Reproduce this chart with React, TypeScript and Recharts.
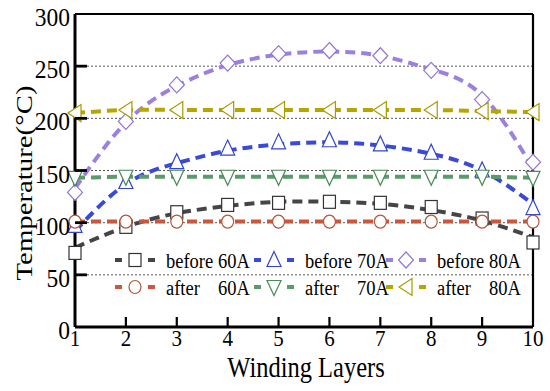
import React from 'react';
import { ComposedChart, Line, XAxis, YAxis, CartesianGrid, ReferenceLine, Customized } from 'recharts';

const layers = [1, 2, 3, 4, 5, 6, 7, 8, 9, 10];
const xTicks = [1, 2, 3, 4, 5, 6, 7, 8, 9, 10];
const yTicks = [0, 50, 100, 150, 200, 250, 300];

const before60 = [71, 96, 110, 117, 119, 120, 119, 115, 104, 81];
const before60Fit = [76, 96, 109, 116, 120, 120, 118, 112, 102, 86];
const after60 = [101, 101, 101, 101, 101, 101, 101, 101, 101, 101];
const before70 = [97, 139, 158, 171, 177, 179, 175, 167, 150, 114];
const before70Fit = [92, 137, 157, 169, 175, 177, 174, 166, 150, 118];
const after70 = [143, 144, 144, 144, 144, 144, 144, 144, 144, 143];
const before80 = [129, 197, 232, 253, 262, 265, 260, 246, 218, 158];
const before80Fit = [133, 196, 231, 251, 261, 264, 260, 247, 222, 152];
const after80 = [205, 208, 208, 208, 208, 208, 208, 208, 207, 206];

const legendWords = ['before', 'before', 'before', 'after', 'after', 'after'];
const legendAmps = ['60A', '70A', '80A', '60A', '70A', '80A'];

const FONT = "'Liberation Serif', 'Times New Roman', serif";

const data = layers.map((x, i) => ({
  x,
  before60: before60[i], before60Fit: before60Fit[i],
  after60: after60[i],
  before70: before70[i], before70Fit: before70Fit[i],
  after70: after70[i],
  before80: before80[i], before80Fit: before80Fit[i],
  after80: after80[i],
}));

type Shape = 'square' | 'circle' | 'up' | 'down' | 'diamond' | 'left';

const series: { key: string; lineKey: string; line: string; marker: string; shape: Shape }[] = [
  { key: 'before60', lineKey: 'before60Fit', line: '#454545', marker: '#333333', shape: 'square' },
  { key: 'before70', lineKey: 'before70Fit', line: '#3a4ad8', marker: '#3344d0', shape: 'up' },
  { key: 'before80', lineKey: 'before80Fit', line: '#9b80e0', marker: '#9373d8', shape: 'diamond' },
  { key: 'after60', lineKey: 'after60', line: '#c9573e', marker: '#b5573a', shape: 'circle' },
  { key: 'after70', lineKey: 'after70', line: '#5b9a6a', marker: '#4a8a58', shape: 'down' },
  { key: 'after80', lineKey: 'after80', line: '#b5a600', marker: '#a89a00', shape: 'left' },
];

function Marker({ shape, cx, cy, color }: { shape: Shape; cx: number; cy: number; color: string }) {
  const common = { fill: '#fff', stroke: color, strokeWidth: 1.2 };
  switch (shape) {
    case 'square':
      return <rect x={cx - 6} y={cy - 6.5} width={12} height={13} {...common} />;
    case 'circle':
      return <ellipse cx={cx} cy={cy} rx={6} ry={6.5} {...common} />;
    case 'up':
      return <polygon points={`${cx},${cy - 8.5} ${cx + 7},${cy + 6.5} ${cx - 7},${cy + 6.5}`} {...common} />;
    case 'down':
      return <polygon points={`${cx - 7},${cy - 6.5} ${cx + 7},${cy - 6.5} ${cx},${cy + 8.5}`} {...common} />;
    case 'diamond':
      return <polygon points={`${cx},${cy - 8} ${cx + 7.5},${cy} ${cx},${cy + 8} ${cx - 7.5},${cy}`} {...common} />;
    case 'left':
    default:
      return <polygon points={`${cx - 7},${cy} ${cx + 6},${cy - 8.5} ${cx + 6},${cy + 8.5}`} {...common} />;
  }
}

const YTick = (props: any) => {
  const { x, y, payload } = props;
  const v = payload.value;
  return (
    <g>
      {v > 0 && v < 300 && <line x1={x} x2={x + 12} y1={y} y2={y} stroke="#000" strokeWidth={2.8} />}
      <text transform={`translate(${x - 5},${y + 12}) scale(1,1.08)`} textAnchor="end" fontSize={23.5} fontFamily={FONT} fill="#000">
        {v}
      </text>
    </g>
  );
};

const XTick = (props: any) => {
  const { x, y, payload } = props;
  const v = payload.value;
  return (
    <g>
      {v > 1 && v < 10 && <line x1={x} x2={x} y1={y} y2={y - 10} stroke="#000" strokeWidth={2.2} />}
      <text transform={`translate(${x},${y + 19}) scale(1,1.1)`} textAnchor="middle" fontSize={21} fontFamily={FONT} fill="#000">
        {v}
      </text>
    </g>
  );
};

const legendCols = [115, 254, 386];
const legendRows = [260, 287];

const Overlay = () => (
  <g>
    <text transform="translate(306,377) scale(1,1.17)" textAnchor="middle" fontSize={24.5} fontFamily={FONT} fill="#000">
      Winding Layers
    </text>
    <text transform="translate(32,183) rotate(-90) scale(1.2,1)" textAnchor="middle" fontSize={24} fontFamily={FONT} fill="#000">
      Temperature(°C)
    </text>
    {series.map((s, i) => {
      const L = legendCols[i % 3];
      const cy = legendRows[Math.floor(i / 3)];
      return (
        <g key={s.key}>
          <line x1={L} x2={L + 7} y1={cy} y2={cy} stroke={s.line} strokeWidth={4} />
          <line x1={L + 33} x2={L + 40} y1={cy} y2={cy} stroke={s.line} strokeWidth={4} />
          <Marker shape={s.shape} cx={L + 20} cy={cy} color={s.marker} />
          <text transform={`translate(${L + 51},${cy + 8}) scale(1,1.18)`} fontSize={18.5} fontFamily={FONT} fill="#000">
            {legendWords[i]}
          </text>
          <text transform={`translate(${L + 51 + 52},${cy + 8}) scale(1,1.18)`} fontSize={18.5} fontFamily={FONT} fill="#000">
            {legendAmps[i]}
          </text>
        </g>
      );
    })}
  </g>
);

export default function App() {
  return (
    <div style={{ position: 'absolute', left: 0, top: 0 }}>
      <ComposedChart width={550} height={391} data={data} margin={{ top: 14, right: 17, left: 0, bottom: 0 }}>
        <CartesianGrid vertical={false} stroke="#555" strokeDasharray="2 2" strokeWidth={1} />
        <XAxis
          dataKey="x"
          type="number"
          domain={[1, 10]}
          ticks={xTicks}
          interval={0}
          height={64}
          tickSize={0}
          tickMargin={0}
          tickLine={false}
          axisLine={{ stroke: '#000', strokeWidth: 3 }}
          tick={<XTick />}
        />
        <YAxis
          type="number"
          domain={[0, 300]}
          ticks={yTicks}
          interval={0}
          width={75}
          tickSize={0}
          tickMargin={0}
          tickLine={false}
          axisLine={{ stroke: '#000', strokeWidth: 3 }}
          tick={<YTick />}
        />
        <ReferenceLine y={300} stroke="#000" strokeWidth={2.2} />
        <ReferenceLine x={10} stroke="#000" strokeWidth={2.2} />
        {series.map((s) => (
          <Line
            key={s.lineKey + '-line'}
            dataKey={s.lineKey}
            type="natural"
            stroke={s.line}
            strokeWidth={4}
            strokeDasharray="10 6"
            dot={false}
            activeDot={false}
            isAnimationActive={false}
          />
        ))}
        {series.map((s) => (
          <Line
            key={s.key + '-marks'}
            dataKey={s.key}
            stroke="none"
            strokeWidth={0}
            activeDot={false}
            isAnimationActive={false}
            dot={(p: any) => (
              <Marker key={`${s.key}-${p.index}`} shape={s.shape} cx={p.cx} cy={p.cy} color={s.marker} />
            )}
          />
        ))}
        <Customized component={<Overlay />} />
      </ComposedChart>
    </div>
  );
}
